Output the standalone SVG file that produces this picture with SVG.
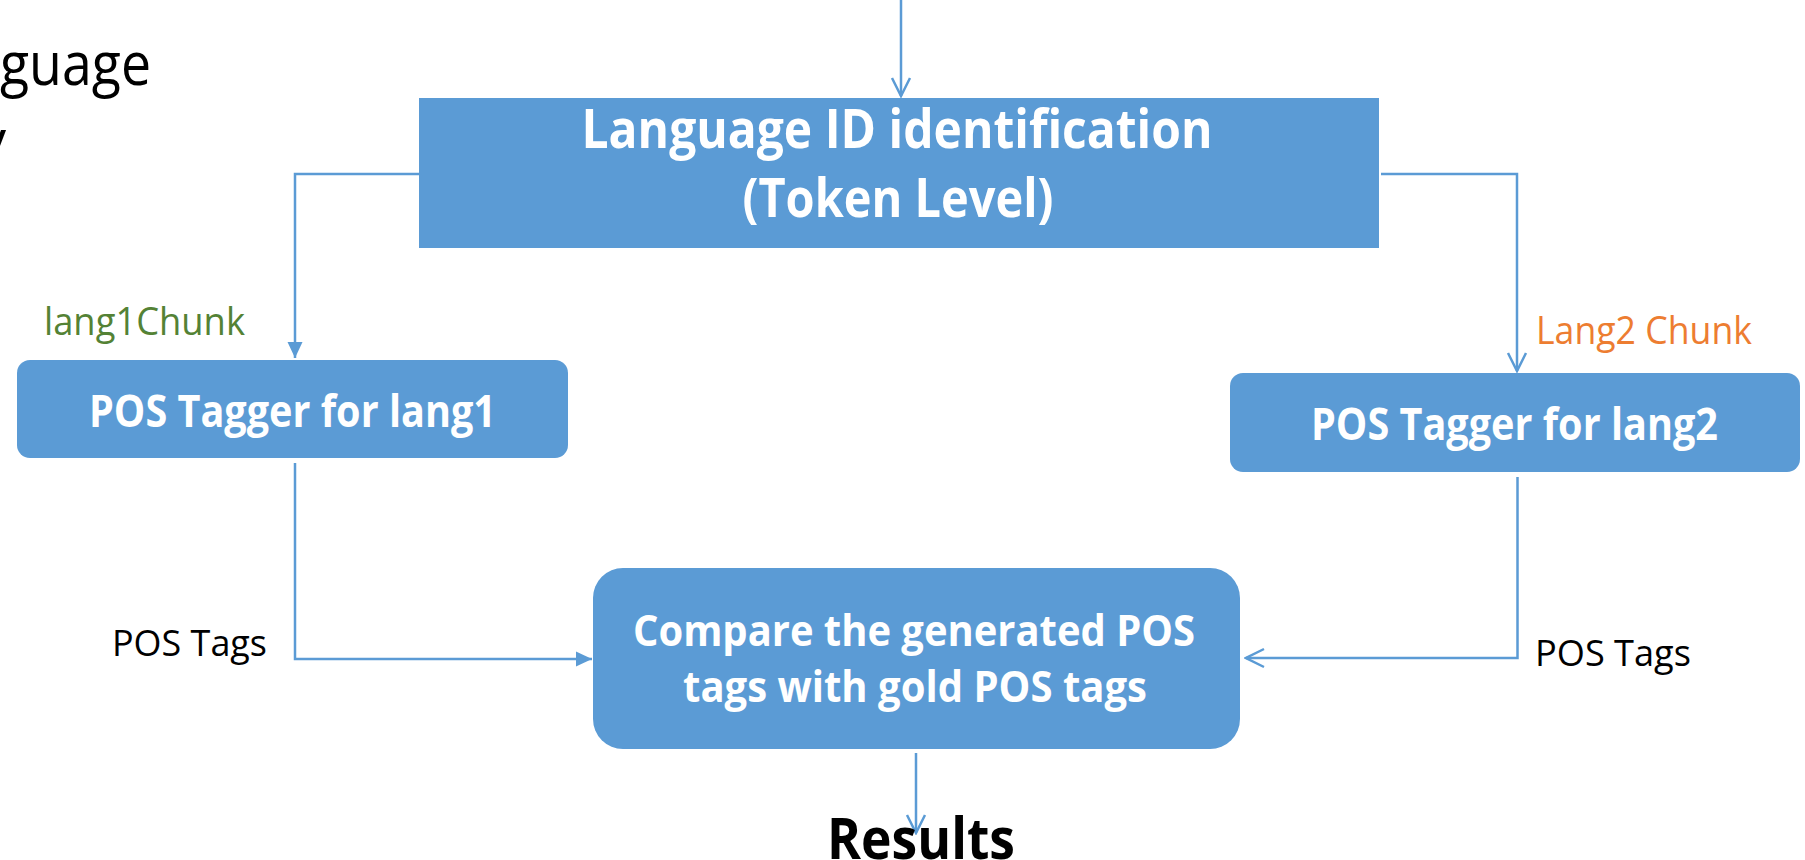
<svg xmlns="http://www.w3.org/2000/svg" width="1805" height="860" viewBox="0 0 1805 860">
<style>
.box{fill:#5B9BD5}
.bt{font-family:"Open Sans","Noto Sans",sans-serif;font-weight:bold;fill:#FFFFFF}
.lbl{font-family:"Open Sans","Noto Sans",sans-serif;font-weight:normal}
.res{font-family:"Open Sans","Noto Sans",sans-serif;font-weight:bold;fill:#000000}
.con{fill:none;stroke:#5B9BD5;stroke-width:2.5}
</style>
<defs>
<marker id="open" viewBox="-21 -11 23 22" markerWidth="23" markerHeight="22" refX="0" refY="0" orient="auto" markerUnits="userSpaceOnUse">
<path d="M-18,-9 L0,0 L-18,9" fill="none" stroke="#5B9BD5" stroke-width="2.5"/>
</marker>
<marker id="solid" viewBox="-17 -9 18 18" markerWidth="18" markerHeight="18" refX="0" refY="0" orient="auto" markerUnits="userSpaceOnUse">
<path d="M-16,-7.5 L0,0 L-16,7.5 Z" fill="#5B9BD5"/>
</marker>
</defs>
<rect width="1805" height="860" fill="#FFFFFF"/>
<g id="bg-text">
<text class="lbl" x="0" y="85" font-size="60" textLength="151" lengthAdjust="spacingAndGlyphs" fill="#000000">guage</text>
<text class="lbl" x="6" y="161" font-size="58" text-anchor="end" fill="#000000">y</text>
</g>
<g id="connectors">
<path class="con" d="M901,0 V96" marker-end="url(#open)"/>
<path class="con" d="M419,174 H295 V358" marker-end="url(#solid)"/>
<path class="con" d="M1381,174 H1517 V371" marker-end="url(#open)"/>
<path class="con" d="M295,463 V659 H592" marker-end="url(#solid)"/>
<path class="con" d="M1517.5,477 V658 H1246" marker-end="url(#open)"/>
<path class="con" d="M916,753 V833" marker-end="url(#open)"/>
</g>
<g id="lang-id">
<rect class="box" x="419" y="98" width="960" height="150"/>
<text class="bt" x="897" y="148" font-size="53" text-anchor="middle" textLength="631" lengthAdjust="spacingAndGlyphs">Language ID identification</text>
<text class="bt" x="898" y="217" font-size="53" text-anchor="middle" textLength="311" lengthAdjust="spacingAndGlyphs">(Token Level)</text>
</g>
<g id="tagger1">
<rect class="box" x="17" y="360" width="551" height="98" rx="13"/>
<text class="bt" x="292.5" y="427" font-size="45" text-anchor="middle" textLength="407" lengthAdjust="spacingAndGlyphs">POS Tagger for lang1</text>
</g>
<g id="tagger2">
<rect class="box" x="1230" y="373" width="570" height="99" rx="13"/>
<text class="bt" x="1514.5" y="440" font-size="45" text-anchor="middle" textLength="407" lengthAdjust="spacingAndGlyphs">POS Tagger for lang2</text>
</g>
<g id="compare">
<rect class="box" x="593" y="568" width="647" height="181" rx="30"/>
<text class="bt" x="914" y="646" font-size="43" text-anchor="middle" textLength="562" lengthAdjust="spacingAndGlyphs">Compare the generated POS</text>
<text class="bt" x="915" y="702" font-size="43" text-anchor="middle" textLength="464" lengthAdjust="spacingAndGlyphs">tags with gold POS tags</text>
</g>
<g id="results">
<text class="res" x="921" y="859" font-size="58" text-anchor="middle" textLength="188" lengthAdjust="spacingAndGlyphs">Results</text>
</g>
<g id="labels">
<text class="lbl" x="44" y="335" font-size="38" textLength="201" lengthAdjust="spacingAndGlyphs" fill="#548235">lang1Chunk</text>
<text class="lbl" x="1536" y="344" font-size="38" textLength="216" lengthAdjust="spacingAndGlyphs" fill="#ED7D31">Lang2 Chunk</text>
<text class="lbl" x="112" y="656" font-size="37" textLength="155" lengthAdjust="spacingAndGlyphs" fill="#000000">POS Tags</text>
<text class="lbl" x="1535" y="666" font-size="37" textLength="156" lengthAdjust="spacingAndGlyphs" fill="#000000">POS Tags</text>
</g>
</svg>
